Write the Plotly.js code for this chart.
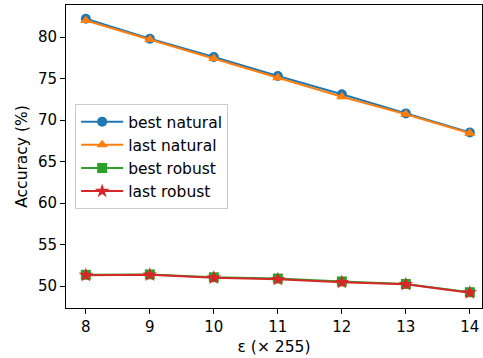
<!DOCTYPE html>
<html>
<head>
<meta charset="utf-8">
<script src="https://cdn.plot.ly/plotly-3.0.1.min.js"></script>
<style>html,body{margin:0;padding:0;background:#fff}#chart{width:483px;height:358px}</style>
</head>
<body>
<div id="chart"></div>
<script>
const epsilon = [8, 9, 10, 11, 12, 13, 14];
const bestNatural = [82.2, 79.8, 77.6, 75.3, 73.1, 70.8, 68.5];
const lastNatural = [82.0, 79.7, 77.4, 75.1, 72.8, 70.7, 68.4];
const bestRobust = [51.35, 51.4, 51.05, 50.9, 50.55, 50.25, 49.25];
const lastRobust = [51.3, 51.35, 51.0, 50.8, 50.45, 50.2, 49.2];
const seriesNames = ["best natural", "last natural", "best robust", "last robust"];
const colors = ["#1f77b4", "#ff7f0e", "#2ca02c", "#d62728"];
const symbols = ["circle", "triangle-up", "square", "star"];
const values = [bestNatural, lastNatural, bestRobust, lastRobust];

const traces = values.map((v, i) => ({
  x: epsilon, y: v, name: seriesNames[i], type: "scatter", mode: "lines+markers",
  legendgroup: "g" + i,
  line: {color: colors[i], width: 2},
  marker: {color: colors[i], symbol: symbols[i], size: i === 3 ? 11 : 10, line: {width: 0}}
}));

const layout = {
  width: 483, height: 358,
  margin: {l: 66, r: 1, t: 5, b: 50},
  paper_bgcolor: "#fff", plot_bgcolor: "#fff",
  font: {family: "DejaVu Sans", size: 15, color: "#000"},
  showlegend: true,
  legend: {x: 0.022, y: 0.673, xanchor: "left", yanchor: "top", bgcolor: "rgba(255,255,255,0.8)",
    bordercolor: "#cccccc", borderwidth: 1, font: {family: "DejaVu Sans", size: 15.5},
    tracegroupgap: 0, itemwidth: 42},
  xaxis: {range: [7.69, 14.19], tickvals: epsilon, ticktext: epsilon.map(String), showgrid: false, zeroline: false,
    showline: true, mirror: true, linecolor: "#000", linewidth: 1, ticks: "outside", ticklen: 5, tickcolor: "#000",
    tickfont: {size: 15},
    title: {text: "ε (× 255)", font: {size: 15.5}, standoff: 6}},
  yaxis: {range: [47.35, 83.86], tickvals: [50, 55, 60, 65, 70, 75, 80], showgrid: false, zeroline: false,
    showline: true, mirror: true, linecolor: "#000", linewidth: 1, ticks: "outside", ticklen: 5, tickcolor: "#000",
    tickfont: {size: 15},
    title: {text: "Accuracy (%)", font: {size: 15.5}, standoff: 6}}
};
Plotly.newPlot("chart", traces, layout, {displayModeBar: false, staticPlot: true});
</script>
</body>
</html>
